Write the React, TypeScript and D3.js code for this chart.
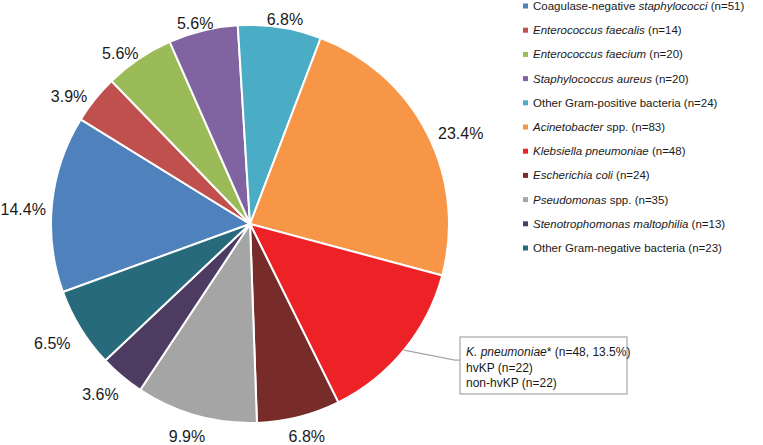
import React from "react";
import * as d3 from "d3";

const categories: [string, boolean][][] = [
  [["Coagulase-negative ", false], ["staphylococci", true]],
  [["Enterococcus faecalis", true]],
  [["Enterococcus faecium", true]],
  [["Staphylococcus aureus", true]],
  [["Other Gram-positive bacteria", false]],
  [["Acinetobacter", true], [" spp.", false]],
  [["Klebsiella pneumoniae", true]],
  [["Escherichia coli", true]],
  [["Pseudomonas", true], [" spp.", false]],
  [["Stenotrophomonas maltophilia", true]],
  [["Other Gram-negative bacteria", false]],
];
const counts = [51, 14, 20, 20, 24, 83, 48, 24, 35, 13, 23];
const pctLabels = ["14.4%", "3.9%", "5.6%", "5.6%", "6.8%", "23.4%", "", "6.8%", "9.9%", "3.6%", "6.5%"];
const colors = ["#4F81BD", "#C0504D", "#9BBB59", "#8064A2", "#4BACC6", "#F79646", "#EC2227", "#772C2A", "#A5A5A5", "#4D3B62", "#276A7C"];
const calloutIndex = 6;
const calloutLines: [string, boolean][][] = [
  [["K. pneumoniae", true], ["* (n=48, 13.5%)", false]],
  [["hvKP (n=22)", false]],
  [["non-hvKP (n=22)", false]],
];

const FONT = "'Liberation Sans', Arial, Helvetica, sans-serif";

function textWidth(s: string, size: number) {
  const w: Record<string, number> = { ".": 0.278, "%": 0.889 };
  let t = 0;
  for (const c of s) t += w[c] ?? 0.556;
  return t * size;
}

export default function App() {
  const W = 763, H = 445;
  const cx = 250, cy = 224, R = 199;
  const start = (-110 * Math.PI) / 180;
  const pie = d3.pie<number>().sort(null).value((d) => d).startAngle(start).endAngle(start + 2 * Math.PI);
  const arcs = pie(counts);
  const arc = d3.arc<d3.PieArcDatum<number>>().innerRadius(0).outerRadius(R);

  const legendX = 523, legendY0 = 6, legendStep = 24.2;
  const labelSize = 16;

  const kArc = arcs[calloutIndex];
  const kMid = (kArc.startAngle + kArc.endAngle) / 2;
  const lx0 = cx + Math.sin(kMid) * R, ly0 = cy - Math.cos(kMid) * R;
  const box = { x: 460, y: 337, w: 167, h: 57 };
  const boxMidY = ly0 + 10;

  return (
    <svg width={W} height={H} style={{ position: "absolute", left: 0, top: 0, background: "#fff" }} fontFamily={FONT}>
      <g transform={`translate(${cx},${cy})`}>
        {arcs.map((a, i) => (
          <path key={i} d={arc(a) || ""} fill={colors[i]} stroke="#fff" strokeWidth={2} strokeLinejoin="round" />
        ))}
      </g>
      {arcs.map((a, i) => {
        const t = pctLabels[i];
        if (!t) return null;
        const m = (a.startAngle + a.endAngle) / 2;
        const w = textWidth(t, labelSize);
        let x = cx + Math.sin(m) * (214 + w / 2);
        let y = cy - Math.cos(m) * 214 + 7;
        x = Math.max(x, w / 2 + 0.5);
        y = Math.min(y, H - 9);
        return (
          <text key={i} x={x} y={y} textAnchor="middle" dominantBaseline="central" fontSize={labelSize} fill="#1a1a1a">
            {t}
          </text>
        );
      })}
      <polyline
        points={`${lx0},${ly0} ${box.x - 5},${boxMidY} ${box.x},${boxMidY}`}
        fill="none"
        stroke="#A6A6A6"
        strokeWidth={1.2}
      />
      <rect x={box.x} y={box.y} width={box.w} height={box.h} fill="#fff" stroke="#A6A6A6" strokeWidth={1.2} />
      {calloutLines.map((segs, i) => (
        <text key={i} x={box.x + 6} y={box.y + 19 + i * 15.5} fontSize={12} fill="#1a1a1a">
          {segs.map(([s, it], j) => (
            <tspan key={j} fontStyle={it ? "italic" : "normal"}>{s}</tspan>
          ))}
        </text>
      ))}
      {categories.map((segs, i) => {
        const y = legendY0 + i * legendStep;
        return (
          <g key={i}>
            <rect x={legendX} y={y - 2.5} width={5} height={5} fill={colors[i]} />
            <text x={legendX + 10} y={y} dominantBaseline="central" fontSize={11.5} fill="#1a1a1a">
              {segs.map(([s, it], j) => (
                <tspan key={j} fontStyle={it ? "italic" : "normal"}>{s}</tspan>
              ))}
              <tspan>{` (n=${counts[i]})`}</tspan>
            </text>
          </g>
        );
      })}
    </svg>
  );
}
